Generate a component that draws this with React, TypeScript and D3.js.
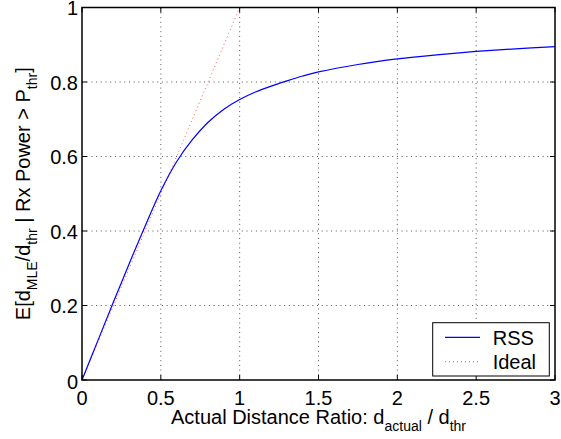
import React from 'react';
import * as d3 from 'd3';

// RSS curve
const distRatio = [0, 0.1, 0.2, 0.3, 0.4, 0.5, 0.6, 0.7, 0.8, 0.9, 1.0, 1.1, 1.2, 1.3, 1.4, 1.5, 1.75, 2.0, 2.25, 2.5, 2.75, 3.0];
const rssValues = [0, 0.105, 0.21, 0.313, 0.413, 0.508, 0.586, 0.645, 0.692, 0.727, 0.753, 0.773, 0.789, 0.803, 0.816, 0.827, 0.847, 0.862, 0.873, 0.882, 0.889, 0.895];
const idealX = [0, 1];
const idealY = [0, 1];
const xTicks = [0, 0.5, 1, 1.5, 2, 2.5, 3];
const yTicks = [0, 0.2, 0.4, 0.6, 0.8, 1];

const W = 561;
const H = 439;
const m = { left: 82, right: 6, top: 7.5, bottom: 59 };
const font = '"Liberation Sans", Arial, Helvetica, sans-serif';

export default function App() {
  const x = d3.scaleLinear().domain([0, 3]).range([m.left, W - m.right]);
  const y = d3.scaleLinear().domain([0, 1]).range([H - m.bottom, m.top]);
  const x0 = x.range()[0], x1 = x.range()[1];
  const y0 = y.range()[0], y1 = y.range()[1];

  const line = d3.line<[number, number]>()
    .x(d => x(d[0]))
    .y(d => y(d[1]))
    .curve(d3.curveCatmullRom.alpha(0.5));

  const rss = line(distRatio.map((d, i) => [d, rssValues[i]]));
  const ideal = d3.line<[number, number]>().x(d => x(d[0])).y(d => y(d[1]))(idealX.map((d, i) => [d, idealY[i]]));

  const tickLen = 5;
  const gridStyle = { stroke: '#555', strokeWidth: 1, strokeDasharray: '1 3.7' };

  return (
    <svg width={W} height={H} style={{ position: 'absolute', left: 0, top: 0, background: '#fff' }} fontFamily={font}>
      <rect x={0} y={0} width={W} height={H} fill="#fff" />
      {/* grid */}
      {xTicks.slice(1, -1).map(t => (
        <line key={'gx' + t} x1={x(t)} x2={x(t)} y1={y0} y2={y1} {...gridStyle} />
      ))}
      {yTicks.slice(1, -1).map(t => (
        <line key={'gy' + t} x1={x0} x2={x1} y1={y(t)} y2={y(t)} {...gridStyle} />
      ))}

      {/* data */}
      <path d={ideal || ''} fill="none" stroke="#ff3030" strokeWidth={1} strokeDasharray="1 3" opacity={0.8} />
      <path d={rss || ''} fill="none" stroke="#0000ff" strokeWidth={1.2} />

      {/* box + ticks */}
      <rect x={x0} y={y1} width={x1 - x0} height={y0 - y1} fill="none" stroke="#000" strokeWidth={1.5} />
      {xTicks.map(t => (
        <g key={'tx' + t}>
          <line x1={x(t)} x2={x(t)} y1={y0} y2={y0 - tickLen} stroke="#000" />
          <line x1={x(t)} x2={x(t)} y1={y1} y2={y1 + tickLen} stroke="#000" />
          <text x={x(t)} y={y0 + 25} textAnchor="middle" fontSize={20}>{t}</text>
        </g>
      ))}
      {yTicks.map(t => (
        <g key={'ty' + t}>
          <line x1={x0} x2={x0 + tickLen} y1={y(t)} y2={y(t)} stroke="#000" />
          <line x1={x1} x2={x1 - tickLen} y1={y(t)} y2={y(t)} stroke="#000" />
          <text x={x0 - 4} y={y(t) + (t === 0 ? 9 : 7.5)} textAnchor="end" fontSize={20}>{t}</text>
        </g>
      ))}

      {/* axis labels */}
      <text x={(x0 + x1) / 2} y={424} textAnchor="middle" fontSize={20}>
        Actual Distance Ratio: d<tspan fontSize={14} dy={7}>actual</tspan>
        <tspan dy={-7}> / d</tspan><tspan fontSize={14} dy={7}>thr</tspan>
      </text>
      <text transform={`translate(30,${(y0 + y1) / 2}) rotate(-90)`} textAnchor="middle" fontSize={20}>
        E[d<tspan fontSize={14} dy={7}>MLE</tspan>
        <tspan dy={-7}>/d</tspan><tspan fontSize={14} dy={7}>thr</tspan>
        <tspan dy={-7}> | Rx Power &gt; P</tspan><tspan fontSize={14} dy={7}>thr</tspan>
        <tspan dy={-7}>]</tspan>
      </text>

      {/* legend */}
      <g>
        <rect x={432.7} y={322.7} width={116.6} height={53.3} fill="#fff" stroke="#000" strokeWidth={1} />
        <line x1={445} x2={480} y1={337.3} y2={337.3} stroke="#0000ff" strokeWidth={1.2} />
        <text x={492.7} y={345} fontSize={20}>RSS</text>
        <line x1={445} x2={480} y1={361.7} y2={361.7} stroke="#ff3030" strokeWidth={1} strokeDasharray="1 3" opacity={0.8} />
        <text x={492.7} y={369} fontSize={20}>Ideal</text>
      </g>
    </svg>
  );
}
